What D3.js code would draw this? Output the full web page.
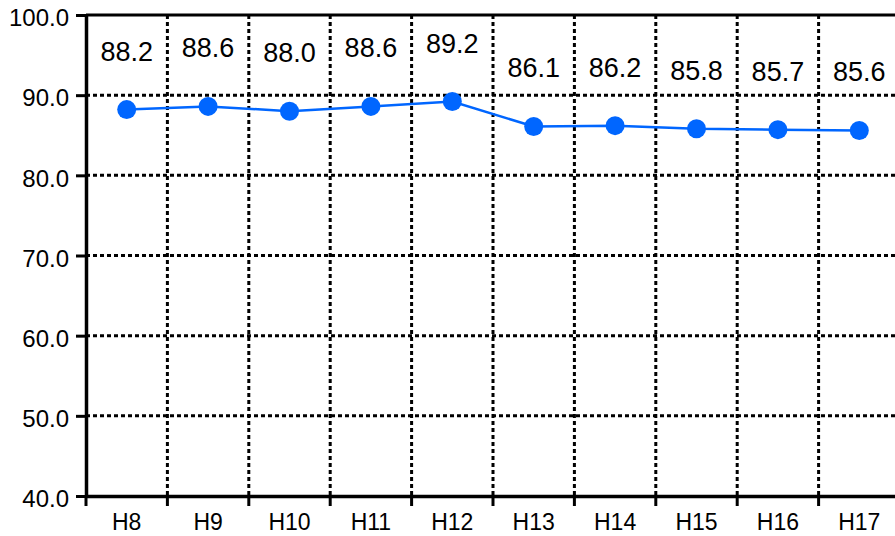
<!DOCTYPE html>
<html>
<head>
<meta charset="utf-8">
<script src="https://cdn.jsdelivr.net/npm/d3@7"></script>
<style>
  body { margin: 0; background: #fff; }
  svg { display: block; font-family: "Liberation Sans", Arial, sans-serif; }
</style>
</head>
<body>
<div id="chart"></div>
<script>
var categories = ["H8", "H9", "H10", "H11", "H12", "H13", "H14", "H15", "H16", "H17"];
var values = [88.2, 88.6, 88.0, 88.6, 89.2, 86.1, 86.2, 85.8, 85.7, 85.6];
var yTicks = [40, 50, 60, 70, 80, 90, 100];

var svgWidth = 895;
var svgHeight = 536;

var margin = { top: 15, right: -5, bottom: 40, left: 86 };
var chartWidth = svgWidth - margin.left - margin.right;
var chartHeight = svgHeight - margin.top - margin.bottom;

var svg = d3.select("#chart").append("svg")
    .attr("width", svgWidth)
    .attr("height", svgHeight);

var chartGroup = svg.append("g")
    .attr("transform", `translate(${margin.left}, ${margin.top})`);

// scales
var xScale = d3.scaleBand()
    .domain(categories)
    .range([0, chartWidth]);

var yScale = d3.scaleLinear()
    .domain([40, 100])
    .range([chartHeight, 0]);

// horizontal grid
chartGroup.append("g")
    .selectAll("line")
    .data(yTicks.filter(d => d > 40))
    .enter()
    .append("line")
    .attr("x1", 0)
    .attr("x2", chartWidth)
    .attr("y1", d => yScale(d))
    .attr("y2", d => yScale(d))
    .attr("stroke", "#000")
    .attr("stroke-width", 3)
    .attr("stroke-dasharray", d => d === 100 ? null : "4,3");

// vertical grid at category boundaries
chartGroup.append("g")
    .selectAll("line")
    .data(categories.slice(1))
    .enter()
    .append("line")
    .attr("x1", d => xScale(d))
    .attr("x2", d => xScale(d))
    .attr("y1", 0)
    .attr("y2", chartHeight)
    .attr("stroke", "#000")
    .attr("stroke-width", 3)
    .attr("stroke-dasharray", "4,3");

// y axis
var leftAxis = d3.axisLeft(yScale)
    .tickValues(yTicks)
    .tickFormat(d3.format(".1f"))
    .tickSize(10)
    .tickSizeOuter(0)
    .tickPadding(7);

var yAxisG = chartGroup.append("g")
    .call(leftAxis)
    .attr("font-size", 24)
    .attr("font-family", "Liberation Sans, Arial, sans-serif");
yAxisG.selectAll("line").attr("stroke", "#000").attr("stroke-width", 3);
yAxisG.select(".domain").attr("stroke", "#000").attr("stroke-width", 3.5);
yAxisG.selectAll("text").attr("fill", "#000").attr("dy", "0.45em");

// x axis (labels at band centres, ticks at boundaries)
var bottomAxis = d3.axisBottom(xScale)
    .tickSize(0)
    .tickSizeOuter(0)
    .tickPadding(18);

var xAxisG = chartGroup.append("g")
    .attr("transform", `translate(0, ${chartHeight})`)
    .call(bottomAxis)
    .attr("font-size", 23)
    .attr("font-family", "Liberation Sans, Arial, sans-serif");
xAxisG.select(".domain").attr("stroke", "#000").attr("stroke-width", 3.5);
xAxisG.selectAll("text").attr("fill", "#000");

xAxisG.selectAll(".bound")
    .data(categories)
    .enter()
    .append("line")
    .attr("class", "bound")
    .attr("x1", d => xScale(d))
    .attr("x2", d => xScale(d))
    .attr("y1", 0)
    .attr("y2", 10)
    .attr("stroke", "#000")
    .attr("stroke-width", 3);

// line
var line = d3.line()
    .x((d, i) => xScale(categories[i]) + xScale.bandwidth() / 2)
    .y(d => yScale(d));

chartGroup.append("path")
    .datum(values)
    .attr("d", line)
    .attr("fill", "none")
    .attr("stroke", "#0066ff")
    .attr("stroke-width", 2.5);

chartGroup.selectAll(".dot")
    .data(values)
    .enter()
    .append("circle")
    .attr("class", "dot")
    .attr("cx", (d, i) => xScale(categories[i]) + xScale.bandwidth() / 2)
    .attr("cy", d => yScale(d))
    .attr("r", 9.5)
    .attr("fill", "#0066ff");

// value labels
chartGroup.selectAll(".val")
    .data(values)
    .enter()
    .append("text")
    .attr("class", "val")
    .attr("x", (d, i) => xScale(categories[i]) + xScale.bandwidth() / 2)
    .attr("y", d => yScale(d) - 49)
    .attr("font-size", 27)
    .attr("text-anchor", "middle")
    .attr("fill", "#000")
    .text(d => d3.format(".1f")(d));
</script>
</body>
</html>
